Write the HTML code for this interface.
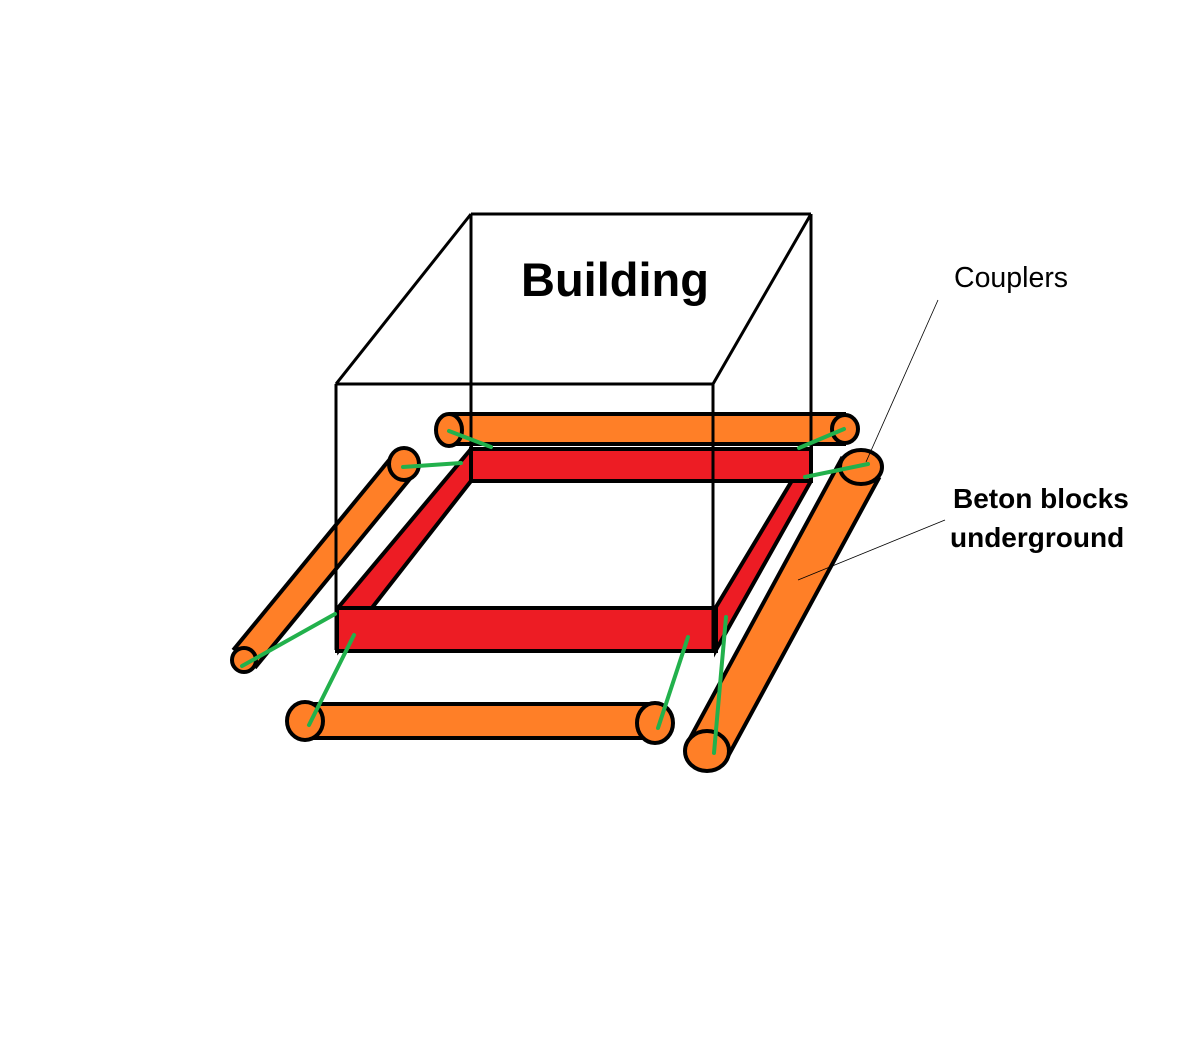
<!DOCTYPE html>
<html><head><style>
html,body{margin:0;padding:0;background:#fff;width:1178px;height:1060px;overflow:hidden}
svg{display:block}
text{font-family:"Liberation Sans",sans-serif}
</style></head><body>
<svg width="1178" height="1060" viewBox="0 0 1178 1060" xmlns="http://www.w3.org/2000/svg">
<g stroke-linecap="butt">
<line x1="449" y1="429" x2="846" y2="429" stroke="#000" stroke-width="34"/>
<line x1="449" y1="429" x2="846" y2="429" stroke="#ff7f27" stroke-width="26"/>
<ellipse cx="449" cy="430" rx="13" ry="16" fill="#ff7f27" stroke="#000" stroke-width="4"/>
<ellipse cx="845" cy="429" rx="13" ry="14" fill="#ff7f27" stroke="#000" stroke-width="4"/>
<line x1="404" y1="464" x2="244" y2="659" stroke="#000" stroke-width="32"/>
<line x1="404" y1="464" x2="244" y2="659" stroke="#ff7f27" stroke-width="24"/>
<ellipse cx="404" cy="464" rx="15" ry="16" fill="#ff7f27" stroke="#000" stroke-width="4"/>
<ellipse cx="244" cy="660" rx="12" ry="12" fill="#ff7f27" stroke="#000" stroke-width="4"/>
<line x1="305" y1="721" x2="655" y2="721" stroke="#000" stroke-width="38"/>
<line x1="305" y1="721" x2="655" y2="721" stroke="#ff7f27" stroke-width="30"/>
<ellipse cx="305" cy="721" rx="18" ry="19" fill="#ff7f27" stroke="#000" stroke-width="4"/>
<ellipse cx="655" cy="723" rx="18" ry="20" fill="#ff7f27" stroke="#000" stroke-width="4"/>
<line x1="861" y1="467" x2="707" y2="751" stroke="#000" stroke-width="46"/>
<line x1="861" y1="467" x2="707" y2="751" stroke="#ff7f27" stroke-width="38"/>
<ellipse cx="861" cy="467" rx="21" ry="17" fill="#ff7f27" stroke="#000" stroke-width="4"/>
<ellipse cx="707" cy="751" rx="22" ry="20" fill="#ff7f27" stroke="#000" stroke-width="4"/>
</g>
<g fill="#ed1c24" stroke="#000" stroke-width="4" stroke-linejoin="miter">
<polygon points="471,449 471,481 339,650 337,609"/>
<polygon points="811,449 811,481 716,650 716,607"/>
<rect x="471" y="449" width="340" height="32"/>
<rect x="337" y="608" width="379" height="43"/>
</g>
<g stroke="#000" stroke-width="3" fill="none">
<line x1="471" y1="214" x2="811" y2="214"/>
<line x1="336" y1="384" x2="713" y2="384"/>
<line x1="336" y1="384" x2="471" y2="214"/>
<line x1="713" y1="384" x2="811" y2="214"/>
<line x1="336" y1="384" x2="336" y2="650"/>
<line x1="471" y1="214" x2="471" y2="481"/>
<line x1="713" y1="384" x2="713" y2="650"/>
<line x1="811" y1="214" x2="811" y2="481"/>
</g>
<g stroke="#22b14c" stroke-width="4" stroke-linecap="round">
<line x1="449" y1="431" x2="491" y2="447"/>
<line x1="844" y1="429" x2="799" y2="448"/>
<line x1="403" y1="467" x2="461" y2="463"/>
<line x1="868" y1="464" x2="805" y2="477"/>
<line x1="335" y1="614" x2="242" y2="666"/>
<line x1="354" y1="635" x2="309" y2="725"/>
<line x1="688" y1="637" x2="658" y2="728"/>
<line x1="726" y1="617" x2="714" y2="753"/>
</g>
<line x1="938" y1="300" x2="866" y2="462" stroke="#000" stroke-width="0.8"/>
<line x1="945" y1="520" x2="798" y2="580" stroke="#000" stroke-width="0.8"/>
<text x="521" y="296" font-size="47" font-weight="bold" fill="#000">Building</text>
<text x="954" y="287" font-size="28.5" fill="#000">Couplers</text>
<text x="953" y="508" font-size="28" font-weight="bold" fill="#000">Beton blocks</text>
<text x="950" y="547" font-size="28" font-weight="bold" fill="#000">underground</text>
</svg>
</body></html>
